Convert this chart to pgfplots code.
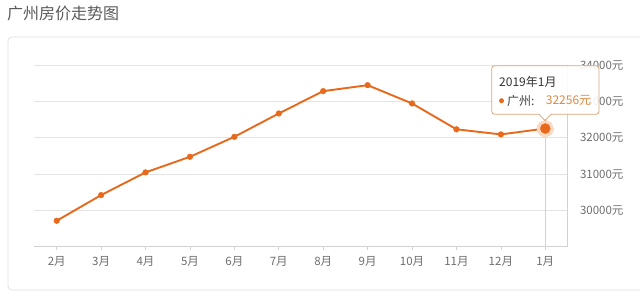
\documentclass[border=0pt]{standalone}
\usepackage{pgfplots}
\pgfplotsset{compat=1.18}
\usepackage{fontspec}
\setmainfont{Noto Sans CJK SC}
\definecolor{lineor}{HTML}{E8691C}
\definecolor{halo}{HTML}{FAD9C3}
\definecolor{titlegray}{HTML}{5A5A5A}
\definecolor{labgray}{HTML}{6E6E6E}
\definecolor{gridgray}{HTML}{E4E4E4}
\definecolor{axisgray}{HTML}{D2D2D2}
\definecolor{boxgray}{HTML}{E2E2E2}
\definecolor{tipborder}{HTML}{D9A77A}
\definecolor{tipval}{HTML}{DB8A45}
\begin{document}
\begin{tikzpicture}[x=1pt,y=1pt]
\useasboundingbox (0,0) rectangle (640,303);
\clip (0,0) rectangle (640,303);
\fill[white] (0,0) rectangle (640,303);
\node[anchor=west, text=titlegray, inner sep=0pt, font=\fontsize{16}{16}\selectfont] at (7,290) {广州房价走势图};
\draw[boxgray, line width=0.8pt, rounded corners=4pt] (8,266) rectangle (660,13);
\begin{axis}[
  at={(34.5pt,56.4pt)}, anchor=south west,
  scale only axis, width=533pt, height=181.3pt,
  xmin=-0.5, xmax=11.5, ymin=29000, ymax=34000,
  axis x line*=bottom, axis y line*=right,
  axis line style={axisgray, line width=0.8pt},
  xtick={0,...,11},
  xticklabels={2月,3月,4月,5月,6月,7月,8月,9月,10月,11月,12月,1月},
  ytick={30000,31000,32000,33000,34000},
  yticklabels={30000元,31000元,32000元,33000元,34000元},
  scaled y ticks=false,
  tick align=outside, major tick length=3pt,
  xtick style={axisgray, line width=0.6pt},
  ytick style={draw=none},
  ymajorgrids, grid style={gridgray, line width=0.8pt},
  ticklabel style={text=labgray, font=\fontsize{11.5}{12}\selectfont},
  xticklabel style={yshift=-3pt},
  yticklabel style={anchor=west, xshift=6pt},
  clip=false,
]
\draw[axisgray, line width=0.8pt] (axis cs:11,29000) -- (axis cs:11,32256);
\addplot[color=lineor, line width=1.9pt, mark=*, mark size=2.8pt, mark options={fill=lineor, draw=lineor, line width=0.5pt}] coordinates {
(0,29713) (1,30421) (2,31047) (3,31477) (4,32028) (5,32672)
(6,33287) (7,33452) (8,32948) (9,32235) (10,32094) (11,32256)
};
\addplot[color=halo, only marks, mark=*, mark size=8pt, mark options={fill=halo, draw=halo, line width=0pt}] coordinates {(11,32256)};
\addplot[color=lineor, only marks, mark=*, mark size=5pt, mark options={fill=lineor, draw=lineor}] coordinates {(11,32256)};
\end{axis}
\draw[tipborder, line width=0.8pt, fill=white, fill opacity=0.9, rounded corners=3pt]
  (491.7,237.3) -- (599,237.3) -- (599,188.7) [sharp corners] -- (551,188.7) -- (545,182.5) -- (539,188.7) [rounded corners=3pt] -- (491.7,188.7) -- cycle;
\node[anchor=west, inner sep=0pt, text=black!80, font=\fontsize{12}{12}\selectfont] at (499,221.3) {2019年1月};
\fill[lineor] (501.5,202.3) circle (2.5pt);
\node[anchor=west, inner sep=0pt, text=black!75, font=\fontsize{12}{12}\selectfont] at (507,202.3) {广州:};
\node[anchor=west, inner sep=0pt, text=tipval, font=\fontsize{12}{12}\selectfont] at (545.7,202.3) {32256元};
\end{tikzpicture}
\end{document}
